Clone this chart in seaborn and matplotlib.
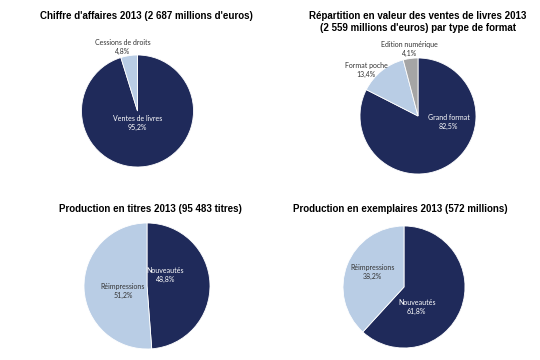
import matplotlib
matplotlib.use("Agg")
import matplotlib.pyplot as plt
import seaborn as sns

# data
titles = [
    "Chiffre d'affaires 2013 (2 687 millions d'euros)",
    "Répartition en valeur des ventes de livres 2013\n(2 559 millions d'euros) par type de format",
    "Production en titres 2013 (95 483 titres)",
    "Production en exemplaires 2013 (572 millions)",
]
ca_labels = ["Ventes de livres", "Cessions de droits"]
ca_values = [95.2, 4.8]
format_labels = ["Grand format", "Format poche", "Edition numérique"]
format_values = [82.5, 13.4, 4.1]
titres_labels = ["Nouveautés", "Réimpressions"]
titres_values = [48.8, 51.2]
ex_labels = ["Nouveautés", "Réimpressions"]
ex_values = [61.8, 38.2]

navy = "#1f2a5a"
light = "#b9cde5"
grey = "#a5a5a5"

sns.set_theme(style="white")
plt.rcParams["font.family"] = ["Liberation Sans", "DejaVu Sans"]

W, H = 540, 360
fig = plt.figure(figsize=(5.4, 3.6), dpi=100)

# (cx, cy, r) in pixels from top-left, title position, label spots in pie-radius units
layout = [
    dict(c=(137.5, 111, 56), t=(146, 16), colors=[navy, light],
         spots=[(0.0, -0.22), (-0.27, 1.15)], tcol=["white", "#333333"]),
    dict(c=(418, 116, 58), t=(418, 22), colors=[navy, light, grey],
         spots=[(0.53, -0.1), (-0.89, 0.8), (-0.14, 1.16)], tcol=["white", "#333333", "#333333"]),
    dict(c=(147, 286, 63), t=(150, 209), colors=[navy, light],
         spots=[(0.29, 0.18), (-0.38, -0.08)], tcol=["white", "#333333"]),
    dict(c=(404, 287, 61), t=(400, 209), colors=[navy, light],
         spots=[(0.21, -0.33), (-0.52, 0.25)], tcol=["white", "#333333"]),
]
series = [
    (ca_labels, ca_values),
    (format_labels, format_values),
    (titres_labels, titres_values),
    (ex_labels, ex_values),
]

for (labels, values), lay, title in zip(series, layout, titles):
    cx, cy, r = lay["c"]
    ax = fig.add_axes([(cx - r) / W, 1 - (cy + r) / H, 2 * r / W, 2 * r / H])
    ax.pie(values, colors=lay["colors"], startangle=90, counterclock=False,
           wedgeprops=dict(edgecolor="white", linewidth=0.6))
    ax.set_xlim(-1, 1)
    ax.set_ylim(-1, 1)
    ax.axis("off")
    for lab, val, (sx, sy), col in zip(labels, values, lay["spots"], lay["tcol"]):
        txt = f"{lab}\n{val:.1f}%".replace(".", ",")
        ax.text(sx, sy, txt, ha="center", va="center", color=col,
                fontsize=5.0, family=["Lato", "DejaVu Sans"], linespacing=1.3,
                clip_on=False)
    tx, ty = lay["t"]
    fig.text(tx / W, 1 - ty / H, title, ha="center", va="center",
             fontsize=7.0, fontweight="bold", color="black", linespacing=1.25)

fig.savefig("out.png", dpi=100)
